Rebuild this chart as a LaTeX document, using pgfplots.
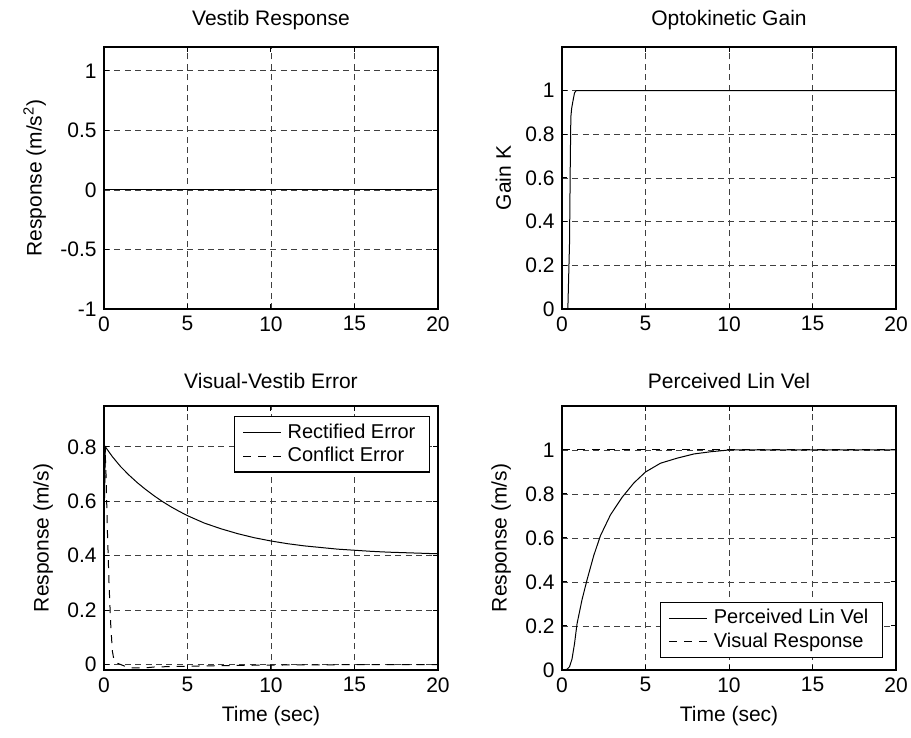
\documentclass[border=0pt]{standalone}
\usepackage{pgfplots}
\pgfplotsset{compat=1.18}
\usepackage{fontspec}
\setmainfont{Liberation Sans}
\begin{document}
\fontsize{10.5}{12.6}\selectfont
\begin{tikzpicture}
\useasboundingbox (0,0) rectangle (455.5pt,369pt);
\pgfplotsset{
 every axis/.append style={
  scale only axis, width=167pt, height=131pt, anchor=south west,
  xmin=0, xmax=20, xtick={0,5,10,15,20},
  tick align=inside, major tick length=2.5pt,
  grid=major,
  major grid style={black!75, line width=0.4pt, dash pattern=on 3pt off 2.2pt},
  axis line style={line width=0.7pt},
  every tick/.style={black, line width=0.5pt},
  /pgf/number format/assume math mode=true,
  ticklabel style={font=\fontsize{10.5}{12}\selectfont},
  label style={font=\fontsize{10.5}{12}\selectfont},
  title style={font=\fontsize{10.5}{12}\selectfont, yshift=-1pt},
  legend style={font=\fontsize{10}{12}\selectfont, draw=black, line width=0.6pt, inner xsep=4pt, inner ysep=2pt,
    nodes={inner xsep=3pt, inner ysep=1.5pt}},
  legend cell align=left,
  legend image code/.code={\draw[#1] (0pt,0pt) -- (19pt,0pt);},
 },
 solidline/.style={black, line width=0.5pt},
 dashline/.style={black, line width=0.5pt, dash pattern=on 4pt off 3.5pt},
}
% Top-left
\begin{axis}[at={(52pt,214.5pt)}, ymin=-1, ymax=1.2, ytick={-1,-0.5,0,0.5,1},
  title={Vestib Response}, ylabel={Response (m/s\textsuperscript{2})}]
\addplot[solidline] coordinates {(0,0) (20,0)};
\end{axis}
% Top-right
\begin{axis}[at={(281pt,214.5pt)}, ymin=0, ymax=1.2, ytick={0,0.2,0.4,0.6,0.8,1},
  title={Optokinetic Gain}, ylabel={Gain K}]
\addplot[solidline] coordinates {(0,0) (0.35,0) (0.45,0.3) (0.5,0.7) (0.53,0.88) (0.58,0.92) (0.65,0.95) (0.75,0.99) (0.85,1) (20,1)};
\end{axis}
% Bottom-left
\begin{axis}[at={(52pt,34pt)}, height=132pt, ymin=-0.02, ymax=0.95, ytick={0,0.2,0.4,0.6,0.8},
  title={Visual-Vestib Error}, ylabel={Response (m/s)}, xlabel={Time (sec)},
  legend style={at={(0.976,0.962)}, anchor=north east}]
\addplot[solidline] coordinates {(0,0.5) (0.08,0.8) (0.5,0.764) (1,0.727) (1.5,0.696) (2,0.668) (2.5,0.643) (3,0.620) (3.5,0.599) (4,0.580) (4.5,0.563) (5,0.547) (6,0.520) (7,0.499) (8,0.481) (9,0.466) (10,0.454) (11,0.444) (12,0.436) (13,0.430) (14,0.424) (15,0.420) (16,0.416) (17,0.413) (18,0.411) (19,0.409) (20,0.407)};
\addlegendentry{Rectified Error}
\addplot[dashline] coordinates {(0,0.5) (0.06,0.8) (0.12,0.7) (0.2,0.5) (0.3,0.3) (0.4,0.15) (0.5,0.05) (0.6,0.015) (0.8,0.005) (1,0) (1.5,-0.012) (2.5,-0.012) (3,-0.009) (5,-0.006) (8,-0.003) (12,-0.001) (20,0)};
\addlegendentry{Conflict Error}
\end{axis}
% Bottom-right
\begin{axis}[at={(281pt,34pt)}, height=132pt, ymin=0, ymax=1.2, ytick={0,0.2,0.4,0.6,0.8,1},
  title={Perceived Lin Vel}, ylabel={Response (m/s)}, xlabel={Time (sec)},
  legend style={at={(0.961,0.045)}, anchor=south east}]
\addplot[solidline] coordinates {(0,0) (0.3,0.003) (0.45,0.015) (0.6,0.05) (0.75,0.12) (0.9,0.21) (1.2,0.32) (1.5,0.41) (1.9,0.52) (2.3,0.61) (2.9,0.705) (3.6,0.785) (4.3,0.85) (5,0.90) (5.9,0.94) (6.9,0.963) (7.9,0.982) (8.9,0.992) (10,1.0) (20,1.0)};
\addlegendentry{Perceived Lin Vel}
\addplot[dashline] coordinates {(0,1) (20,1)};
\addlegendentry{Visual Response}
\end{axis}
\end{tikzpicture}
\end{document}
